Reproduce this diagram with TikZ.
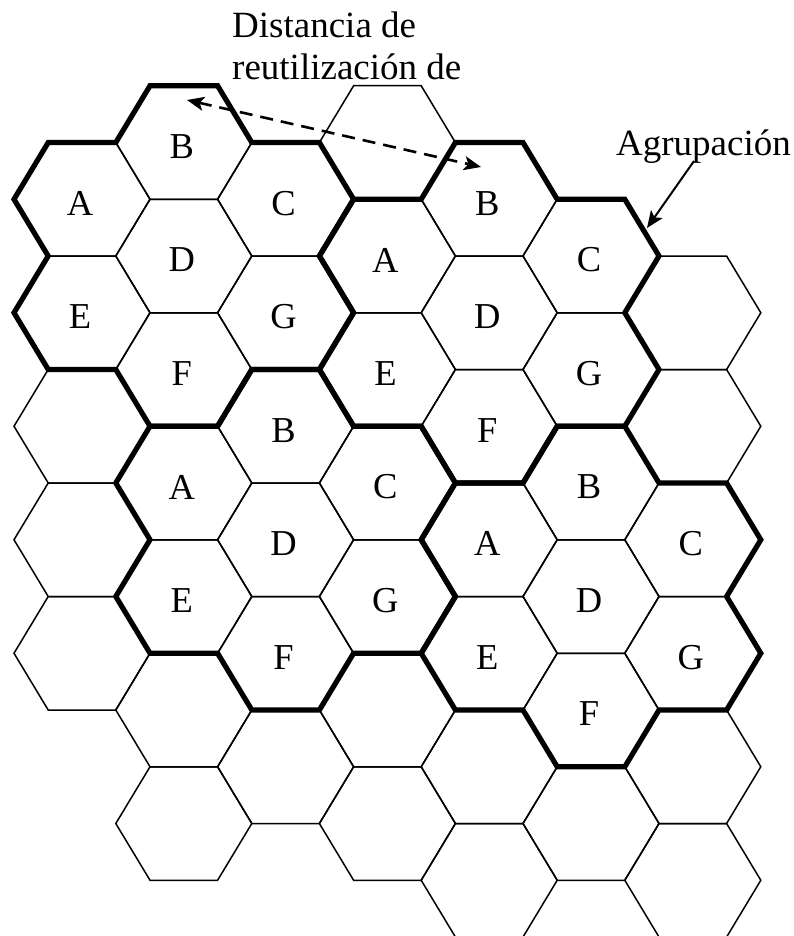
\documentclass[tikz,border=0pt]{standalone}
\usepackage{fontspec}
\setmainfont{Liberation Serif}
\usetikzlibrary{arrows.meta}
\tikzset{
  thinhex/.style={line width=1.5pt, line join=miter},
  clusterline/.style={line width=5.2pt, line join=miter},
  celllabel/.style={inner sep=0pt, font=\fontsize{36.5}{40}\selectfont},
  caption/.style={inner sep=0pt, anchor=base west, font=\fontsize{37}{42}\selectfont},
  reusearrow/.style={line width=2.6pt, dash pattern=on 13pt off 8pt,
    {Stealth[length=17pt,width=14pt,inset=4pt]}-{Stealth[length=17pt,width=14pt,inset=4pt]}},
  pointer/.style={line width=2pt, -{Stealth[length=17pt,width=14pt,inset=4pt]}}
}
\def\HR{68}
\def\HA{33.8}
\def\HH{56.75}
\begin{document}
\begin{tikzpicture}[x=1pt,y=-1pt]
\useasboundingbox (0,0) rectangle (794,936);
% thin grid of hexagons
\foreach \c/\rmin/\rmax in {1/0/4, 2/0/6, 3/0/5, 4/0/6, 5/0/6, 6/1/6, 7/1/6} {
  \foreach \r in {\rmin,...,\rmax} {
    \pgfmathsetmacro\x{82+101.8*(\c-1)}
    \pgfmathsetmacro\y{142.5+113.5*\r+56.75*mod(\c,2)}
    \draw[thinhex] (\x+\HR,\y) -- (\x+\HA,\y-\HH) -- (\x-\HA,\y-\HH) -- (\x-\HR,\y)
      -- (\x-\HA,\y+\HH) -- (\x+\HA,\y+\HH) -- cycle;
  }
}
% cluster outlines (centred on each D cell)
\foreach \cx/\cy in {183.8/256, 489.2/312.75, 285.6/539.75, 591/596.5} {
  \draw[clusterline, shift={(\cx,\cy)}]
    (-33.8,-170.25) -- (33.8,-170.25) -- (68,-113.5) -- (135.6,-113.5)
    -- (169.8,-56.75) -- (135.6,0) -- (169.8,56.75) -- (135.6,113.5)
    -- (68,113.5) -- (33.8,170.25) -- (-33.8,170.25) -- (-68,113.5)
    -- (-135.6,113.5) -- (-169.8,56.75) -- (-135.6,0) -- (-169.8,-56.75)
    -- (-135.6,-113.5) -- (-68,-113.5) -- cycle;
}
% cell labels
\foreach \L/\c/\r [count=\i] in {
  B/2/0, A/1/0, C/3/0, D/2/1, E/1/1, G/3/1, F/2/2,
  B/5/0, A/4/1, C/6/1, D/5/1, E/4/2, G/6/2, F/5/2,
  B/3/2, A/2/3, C/4/3, D/3/3, E/2/4, G/4/4, F/3/4,
  B/6/3, A/5/3, C/7/3, D/6/4, E/5/4, G/7/4, F/6/5} {
  \pgfmathsetmacro\x{82+101.8*(\c-1)-2}
  \pgfmathsetmacro\y{142.5+113.5*\r+56.75*mod(\c,2)+4}
  \node[celllabel] (lab\i) at (\x,\y) {\L};
}
% captions
\node[caption] (dist1) at (232,38) {Distancia de};
\node[caption] (dist2) at (232,80) {reutilización de};
\node[caption] (agrup) at (616,156) {Agrupación};
% arrows
\coordinate (reuseL) at (187,100);
\coordinate (reuseR) at (481,167);
\draw[reusearrow] (reuseL) -- (reuseR);
\coordinate (agrupS) at (694,161);
\coordinate (agrupE) at (647,228);
\draw[pointer] (agrupS) -- (agrupE);
\end{tikzpicture}
\end{document}
